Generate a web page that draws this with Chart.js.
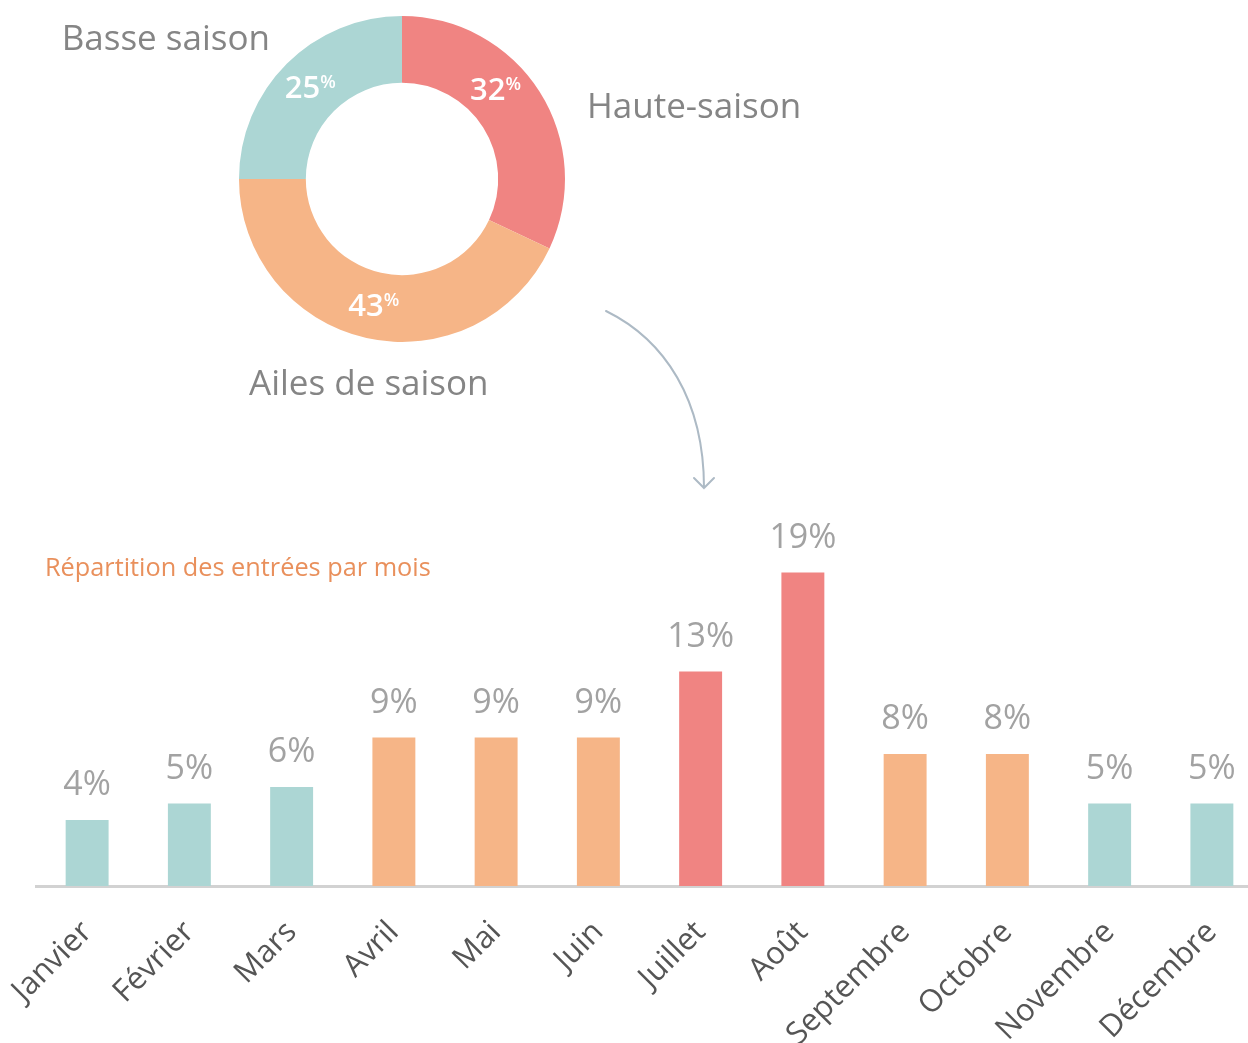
<!DOCTYPE html>
<html lang="fr">
<head>
    <meta charset="UTF-8">
    <title>Répartition des entrées</title>
    <script src="https://cdn.jsdelivr.net/npm/chart.js"></script>
    <style>
        html, body {
            margin: 0;
            padding: 0;
            background: #fff;
            overflow: hidden;
            width: 1248px;
            height: 1043px;
        }
        #donut {
            position: absolute;
            left: 0;
            top: 0;
        }
        #bars {
            position: absolute;
            left: 0;
            top: 490px;
        }
        #title {
            position: absolute;
            left: 45px;
            top: 549px;
            font-family: "Open Sans", sans-serif;
            font-size: 25.3px;
            color: #e9905c;
            white-space: nowrap;
        }
    </style>
</head>
<body>
    <canvas id="donut" width="1248" height="490"></canvas>
    <canvas id="bars" width="1263" height="556"></canvas>
    <div id="title">Répartition des entrées par mois</div>

    <script>
        // Saisons (ordre horaire depuis le haut)
        const seasons = ['Haute-saison', 'Ailes de saison', 'Basse saison'];
        const seasonShares = [32, 43, 25];
        const seasonColors = ['#f08482', '#f6b587', '#acd6d4'];

        // Entrées par mois
        const months = ['Janvier', 'Février', 'Mars', 'Avril', 'Mai', 'Juin', 'Juillet', 'Août', 'Septembre', 'Octobre', 'Novembre', 'Décembre'];
        const monthShares = [4, 5, 6, 9, 9, 9, 13, 19, 8, 8, 5, 5];
        const monthSeason = [2, 2, 2, 1, 1, 1, 0, 0, 1, 1, 2, 2];

        const FONT = '"Open Sans", sans-serif';

        // labels around the doughnut
        const donutText = {
            id: 'donutText',
            afterDraw(chart) {
                const ctx = chart.ctx;
                const arcs = chart.getDatasetMeta(0).data;
                ctx.save();
                // percentages inside the ring
                arcs.forEach((arc, i) => {
                    const nudge = i === 0 ? -0.2 : 0;
                    const mid = (arc.startAngle + arc.endAngle) / 2 + nudge;
                    const r = (arc.innerRadius + arc.outerRadius) / 2;
                    const cx = arc.x + Math.cos(mid) * r;
                    const cy = arc.y + Math.sin(mid) * r;
                    const num = String(seasonShares[i]);
                    ctx.fillStyle = '#fff';
                    ctx.textBaseline = 'alphabetic';
                    ctx.textAlign = 'left';
                    ctx.font = '600 31px ' + FONT;
                    const w1 = ctx.measureText(num).width;
                    ctx.font = '600 18px ' + FONT;
                    const w2 = ctx.measureText('%').width;
                    const x0 = cx - (w1 + w2) / 2;
                    ctx.font = '600 31px ' + FONT;
                    ctx.fillText(num, x0, cy + 11);
                    ctx.font = '600 18px ' + FONT;
                    ctx.fillText('%', x0 + w1, cy + 1);
                });

                // season names
                ctx.fillStyle = '#858585';
                ctx.font = '35px ' + FONT;
                ctx.textAlign = 'right';
                ctx.fillText(seasons[2], 270, 50);
                ctx.textAlign = 'left';
                ctx.fillText(seasons[0], 587, 118);
                ctx.fillText(seasons[1], 249, 395);

                // arrow
                ctx.strokeStyle = '#adbac5';
                ctx.lineWidth = 2;
                ctx.lineCap = 'round';
                ctx.beginPath();
                ctx.moveTo(606, 311);
                ctx.bezierCurveTo(665, 340, 704, 400, 704, 488);
                ctx.moveTo(694, 478);
                ctx.lineTo(704, 488);
                ctx.lineTo(714, 478);
                ctx.stroke();
                ctx.restore();
            }
        };

        new Chart(document.getElementById('donut'), {
            type: 'doughnut',
            data: {
                labels: seasons,
                datasets: [{
                    data: seasonShares,
                    backgroundColor: seasonColors,
                    borderWidth: 0
                }]
            },
            options: {
                responsive: false,
                animation: false,
                cutout: '59%',
                layout: {
                    padding: { left: 239, right: 683, top: 16, bottom: 148 }
                },
                plugins: {
                    legend: { display: false },
                    tooltip: { enabled: false }
                }
            },
            plugins: [donutText]
        });

        // values above the bars
        const barValues = {
            id: 'barValues',
            afterDatasetsDraw(chart) {
                const ctx = chart.ctx;
                ctx.save();
                ctx.fillStyle = '#a2a2a2';
                ctx.font = '34px ' + FONT;
                ctx.textAlign = 'center';
                ctx.textBaseline = 'alphabetic';
                chart.getDatasetMeta(0).data.forEach((bar, i) => {
                    ctx.fillText(monthShares[i] + '%', bar.x, bar.y - 25);
                });
                ctx.restore();
            }
        };

        new Chart(document.getElementById('bars'), {
            type: 'bar',
            data: {
                labels: months,
                datasets: [{
                    data: monthShares,
                    backgroundColor: monthSeason.map(s => seasonColors[s]),
                    barPercentage: 0.42,
                    categoryPercentage: 1
                }]
            },
            options: {
                responsive: false,
                animation: false,
                layout: {
                    padding: { left: 36, right: 0, top: 0, bottom: 0 }
                },
                scales: {
                    x: {
                        grid: { display: false, drawTicks: false },
                        border: { color: '#d2d2d2', width: 3 },
                        ticks: {
                            color: '#555',
                            font: { family: FONT, size: 31 },
                            minRotation: 45,
                            maxRotation: 45,
                            padding: 28
                        },
                        afterFit(scale) {
                            scale.height = 160;
                            scale.paddingLeft = 0;
                            scale.paddingRight = 0;
                        }
                    },
                    y: {
                        display: false,
                        min: 0,
                        max: 24
                    }
                },
                plugins: {
                    legend: { display: false },
                    tooltip: { enabled: false }
                }
            },
            plugins: [barValues]
        });
    </script>
</body>
</html>
